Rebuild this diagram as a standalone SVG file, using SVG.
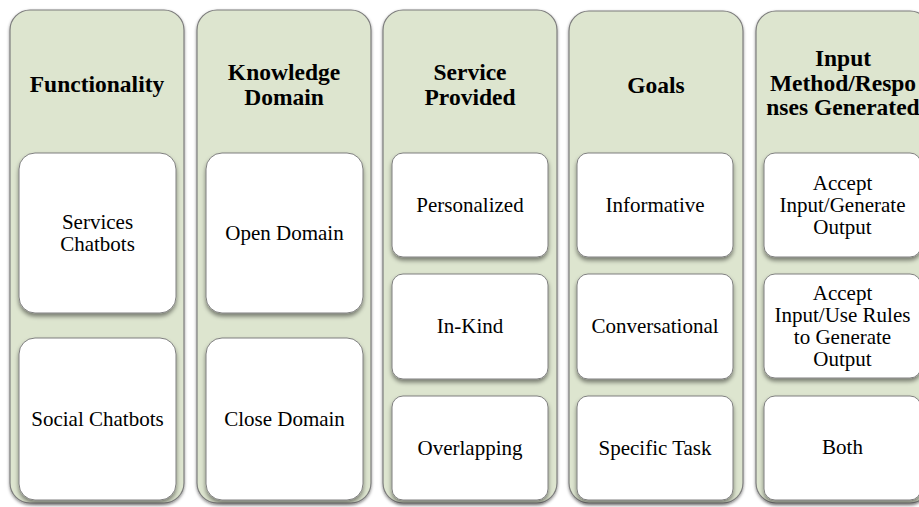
<svg xmlns="http://www.w3.org/2000/svg" width="919" height="507" viewBox="0 0 919 507">
<defs>
<filter id="so" x="-10%" y="-5%" width="120%" height="110%">
<feDropShadow dx="0" dy="1.5" stdDeviation="1.5" flood-color="#000" flood-opacity="0.45"/>
</filter>
<filter id="si" x="-10%" y="-10%" width="120%" height="130%">
<feDropShadow dx="0" dy="3" stdDeviation="2" flood-color="#000" flood-opacity="0.45"/>
</filter>
</defs>
<style>
.outer{fill:#dde5cf;stroke:#7d7d7d;stroke-width:1.2;filter:url(#so)}
.inner{fill:#ffffff;stroke:#7f7f7f;stroke-width:1;filter:url(#si)}
.h{font-family:"Liberation Serif","Times New Roman",serif;font-weight:bold;font-size:23.5px;fill:#000;text-anchor:middle}
.t{font-family:"Liberation Serif","Times New Roman",serif;font-size:21px;fill:#000;text-anchor:middle}
</style>
<rect width="919" height="507" fill="#ffffff"/>

<g id="col-functionality">
<rect class="outer" x="10" y="10" width="174" height="493" rx="20"/>
<text class="h" x="97" y="92">Functionality</text>
</g>
<g id="col-knowledge">
<rect class="outer" x="197" y="10" width="174" height="493" rx="20"/>
<text class="h" x="284" y="80"><tspan x="284">Knowledge</tspan><tspan x="284" dy="25">Domain</tspan></text>
</g>
<g id="col-service">
<rect class="outer" x="383" y="10" width="174" height="493" rx="20"/>
<text class="h" x="470" y="80"><tspan x="470">Service</tspan><tspan x="470" dy="25">Provided</tspan></text>
</g>
<g id="col-goals">
<rect class="outer" x="569" y="11" width="174" height="492" rx="20"/>
<text class="h" x="656" y="93">Goals</text>
</g>
<g id="col-input">
<rect class="outer" x="756" y="11" width="174" height="492" rx="20"/>
<text class="h" x="843" y="66"><tspan x="843">Input</tspan><tspan x="843" dy="24.5">Method/Respo</tspan><tspan x="843" dy="24.5">nses Generated</tspan></text>
</g>

<g id="services-chatbots">
<rect class="inner" x="19" y="153" width="157" height="160" rx="16"/>
<text class="t" x="97.5" y="229"><tspan x="97.5">Services</tspan><tspan x="97.5" dy="22">Chatbots</tspan></text>
</g>
<g id="social-chatbots">
<rect class="inner" x="19" y="338" width="157" height="162" rx="16"/>
<text class="t" x="97.5" y="426">Social Chatbots</text>
</g>
<g id="open-domain">
<rect class="inner" x="206" y="153" width="157" height="160" rx="16"/>
<text class="t" x="284.5" y="240">Open Domain</text>
</g>
<g id="close-domain">
<rect class="inner" x="206" y="338" width="157" height="162" rx="16"/>
<text class="t" x="284.5" y="426">Close Domain</text>
</g>

<g id="personalized">
<rect class="inner" x="392" y="153" width="156" height="104" rx="11"/>
<text class="t" x="470" y="212">Personalized</text>
</g>
<g id="in-kind">
<rect class="inner" x="392" y="274" width="156" height="105" rx="11"/>
<text class="t" x="470" y="333">In-Kind</text>
</g>
<g id="overlapping">
<rect class="inner" x="392" y="396" width="156" height="104" rx="11"/>
<text class="t" x="470" y="455">Overlapping</text>
</g>

<g id="informative">
<rect class="inner" x="577" y="153" width="156" height="104" rx="11"/>
<text class="t" x="655" y="212">Informative</text>
</g>
<g id="conversational">
<rect class="inner" x="577" y="274" width="156" height="105" rx="11"/>
<text class="t" x="655" y="333">Conversational</text>
</g>
<g id="specific-task">
<rect class="inner" x="577" y="396" width="156" height="104" rx="11"/>
<text class="t" x="655" y="455">Specific Task</text>
</g>

<g id="accept-generate">
<rect class="inner" x="764" y="153" width="157" height="104" rx="11"/>
<text class="t" x="842.5" y="190"><tspan x="842.5">Accept</tspan><tspan x="842.5" dy="22">Input/Generate</tspan><tspan x="842.5" dy="22">Output</tspan></text>
</g>
<g id="accept-rules">
<rect class="inner" x="764" y="274" width="157" height="104" rx="11"/>
<text class="t" x="842.5" y="300"><tspan x="842.5">Accept</tspan><tspan x="842.5" dy="22">Input/Use Rules</tspan><tspan x="842.5" dy="22">to Generate</tspan><tspan x="842.5" dy="22">Output</tspan></text>
</g>
<g id="both">
<rect class="inner" x="764" y="396" width="157" height="104" rx="11"/>
<text class="t" x="842.5" y="454">Both</text>
</g>

<g id="connectors"></g>
</svg>
